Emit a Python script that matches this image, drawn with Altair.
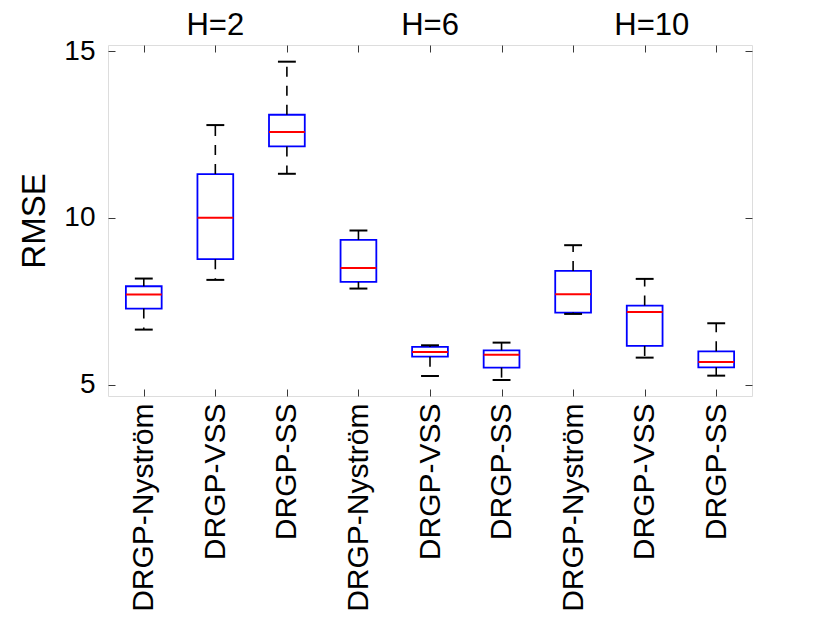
import altair as alt
import pandas as pd

# ---- data ----
methods = ["DRGP-Nyström", "DRGP-VSS", "DRGP-SS",
           "DRGP-Nyström", "DRGP-VSS", "DRGP-SS",
           "DRGP-Nyström", "DRGP-VSS", "DRGP-SS"]
positions = [1, 2, 3, 4, 5, 6, 7, 8, 9]
lower_whisker = [6.65, 8.14, 11.32, 7.88, 5.26, 5.14, 7.12, 5.81, 5.27]
q1 = [7.28, 8.76, 12.14, 8.08, 5.84, 5.51, 7.16, 6.16, 5.52]
median = [7.70, 10.00, 12.57, 8.50, 5.98, 5.90, 7.71, 7.18, 5.68]
q3 = [7.95, 11.31, 13.09, 9.34, 6.13, 6.03, 8.41, 7.37, 6.00]
upper_whisker = [8.18, 12.78, 14.68, 9.62, 6.18, 6.26, 9.18, 8.17, 6.84]

horizon_labels = ["H=2", "H=6", "H=10"]
horizon_positions = [2, 5, 8.1]
y_ticks = [5, 10, 15]

df = pd.DataFrame({
    "pos": positions, "method": methods, "lower": lower_whisker, "q1": q1,
    "median": median, "q3": q3, "upper": upper_whisker,
})
hdf = pd.DataFrame({"label": horizon_labels, "pos": horizon_positions})

FONT = "Liberation Sans"
FRAME = "#3a3a3a"
xs = alt.Scale(domain=[0.5, 9.5], nice=False, zero=False)
ys = alt.Scale(domain=[4.66, 15.18], nice=False, zero=False)

label_expr = "[" + ",".join("'%s'" % m for m in methods) + "][datum.value - 1]"

bottom_labels = alt.Axis(orient="bottom", values=positions, labelExpr=label_expr,
                         labelAngle=-90, labelFontSize=30, labelFont=FONT,
                         labelColor="#000000", labelPadding=7, ticks=False, tickSize=0,
                         domain=False, grid=False, labelOverlap=False, labelFlush=False,
                         labelLimit=0)
left_labels = alt.Axis(orient="left", values=y_ticks, labelFontSize=28, labelFont=FONT,
                       labelColor="#000000", labelPadding=13, ticks=False, tickSize=0,
                       domain=False, grid=False, titleFontSize=33, titleFont=FONT,
                       titleFontWeight="normal", titleColor="#000000", titlePadding=12)


def tick_axis(orient, vals):
    return alt.Axis(orient=orient, values=vals, labels=False, domain=False, grid=False,
                    ticks=True, tickSize=7, tickColor=FRAME, tickWidth=1, offset=-7)


base = alt.Chart(df).transform_calculate(
    xl="datum.pos - 0.25", xr="datum.pos + 0.25",
    cl="datum.pos - 0.125", cr="datum.pos + 0.125",
)

boxes = base.mark_rect(fill="white", stroke="#0000ff", strokeWidth=1.8).encode(
    x=alt.X("xl:Q", scale=xs, axis=bottom_labels, title=None),
    x2="xr:Q",
    y=alt.Y("q1:Q", scale=ys, axis=left_labels, title="RMSE"),
    y2="q3:Q",
)

medians = base.mark_rule(color="#ff0000", strokeWidth=2).encode(
    x=alt.X("xl:Q", scale=xs, axis=tick_axis("bottom", positions), title=None),
    x2="xr:Q",
    y=alt.Y("median:Q", scale=ys, axis=tick_axis("left", y_ticks), title=None),
)

upper_w = base.mark_rule(color="#000000", strokeWidth=1.6, strokeDash=[10, 9]).encode(
    x=alt.X("pos:Q", scale=xs, axis=tick_axis("top", positions), title=None),
    y=alt.Y("q3:Q", scale=ys, axis=tick_axis("right", y_ticks), title=None),
    y2="upper:Q",
)

lower_w = base.mark_rule(color="#000000", strokeWidth=1.6, strokeDash=[10, 9]).encode(
    x=alt.X("pos:Q", scale=xs, axis=None),
    y=alt.Y("q1:Q", scale=ys, axis=None),
    y2="lower:Q",
)

upper_c = base.mark_rule(color="#000000", strokeWidth=2).encode(
    x=alt.X("cl:Q", scale=xs, axis=None),
    x2="cr:Q",
    y=alt.Y("upper:Q", scale=ys, axis=None),
)

lower_c = base.mark_rule(color="#000000", strokeWidth=2).encode(
    x=alt.X("cl:Q", scale=xs, axis=None),
    x2="cr:Q",
    y=alt.Y("lower:Q", scale=ys, axis=None),
)

heads = alt.Chart(hdf).mark_text(fontSize=31, font=FONT, color="#000000",
                                 align="center", baseline="alphabetic").encode(
    x=alt.X("pos:Q", scale=xs, axis=None),
    y=alt.value(-10),
    text="label:N",
)

chart = alt.layer(boxes, medians, upper_w, lower_w, upper_c, lower_c, heads).resolve_axis(
    x="independent", y="independent"
).properties(
    width=644, height=351,
    padding={"left": 100, "top": 37, "right": 70, "bottom": 222},
    autosize=alt.AutoSizeParams(type="none"),
).configure_view(stroke=FRAME, strokeWidth=1).configure(background="white", font=FONT)

chart.save("out.html", embed_options={"renderer": "svg", "actions": False})
